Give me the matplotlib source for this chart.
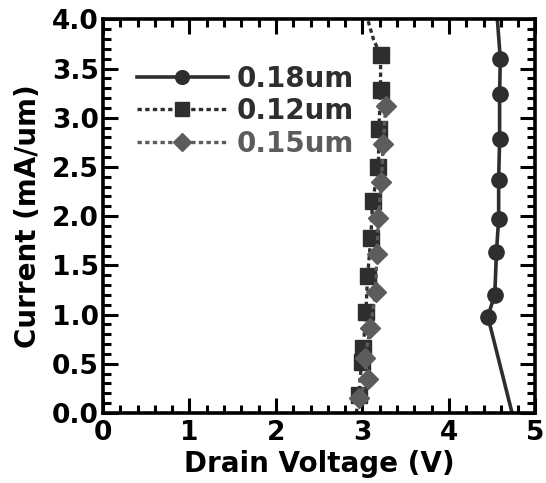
"""
Drain current vs. drain voltage for three gate lengths
"""
from matplotlib import pyplot as plt
from matplotlib.ticker import MultipleLocator

# 0.18um: first/last points are line ends without markers
v_018 = [4.73, 4.45, 4.53, 4.55, 4.575, 4.575, 4.586, 4.586, 4.594, 4.56]
i_018 = [0.0, 0.98, 1.20, 1.64, 1.97, 2.37, 2.78, 3.24, 3.60, 4.0]

# 0.12um: last two points are the dotted tail above the markers
v_012 = [2.93, 2.96, 2.99, 3.01, 3.04, 3.06, 3.097, 3.117, 3.185, 3.19, 3.21, 3.21, 3.13, 3.06]
i_012 = [0.0, 0.18, 0.52, 0.66, 1.03, 1.39, 1.78, 2.15, 2.50, 2.89, 3.28, 3.64, 3.79, 4.0]

v_015 = [2.956, 3.06, 3.03, 3.09, 3.154, 3.166, 3.185, 3.22, 3.24, 3.27]
i_015 = [0.15, 0.35, 0.56, 0.86, 1.23, 1.62, 1.98, 2.35, 2.73, 3.12]

dark = '#2e2e2e'
grey = '#5c5c5c'


def main():
    plt.rcParams['font.family'] = ['DejaVu Sans']
    plt.rcParams['font.weight'] = 'bold'

    f = plt.figure(figsize=(5.46, 4.83), dpi=100)
    ax = f.add_axes([0.1886, 0.145, 0.792, 0.815])

    ax.plot(v_018, i_018, '-', color=dark, lw=2.6, marker='o', ms=11,
            markevery=list(range(1, len(v_018) - 1)), label='0.18um')
    ax.plot(v_012, i_012, color=dark, lw=2.4, ls=(0, (1.3, 1.0)), marker='s', ms=11,
            markevery=list(range(1, len(v_012) - 2)), label='0.12um')
    ax.plot(v_015, i_015, color=grey, lw=2.4, ls=(0, (1.3, 1.0)), marker='D', ms=10,
            label='0.15um')

    ax.set_xlim(0, 5)
    ax.set_ylim(0, 4)
    ax.xaxis.set_major_locator(MultipleLocator(1))
    ax.xaxis.set_minor_locator(MultipleLocator(0.2))
    ax.yaxis.set_major_locator(MultipleLocator(0.5))
    ax.yaxis.set_minor_locator(MultipleLocator(0.1))
    ax.yaxis.set_major_formatter('{x:.1f}')
    ax.tick_params(which='both', direction='in', top=True, right=True, width=2.2)
    ax.tick_params(which='major', length=11, labelsize=19, pad=3)
    ax.tick_params(axis='x', which='major', pad=5)
    ax.tick_params(which='minor', length=6)
    for s in ax.spines.values():
        s.set_linewidth(2.6)

    ax.set_xlabel('Drain Voltage (V)', fontsize=20, fontweight='bold', labelpad=3)
    ax.set_ylabel('Current (mA/um)', fontsize=20, fontweight='bold', labelpad=7)

    ax.legend(loc='upper left', bbox_to_anchor=(0.052, 0.913), frameon=False,
              fontsize=20, labelcolor='linecolor', handlelength=3.3, markerscale=0.9,
              handletextpad=0.3, borderaxespad=0, labelspacing=0.16)

    f.savefig('out.png', dpi=100)


if __name__ == '__main__':
    main()
